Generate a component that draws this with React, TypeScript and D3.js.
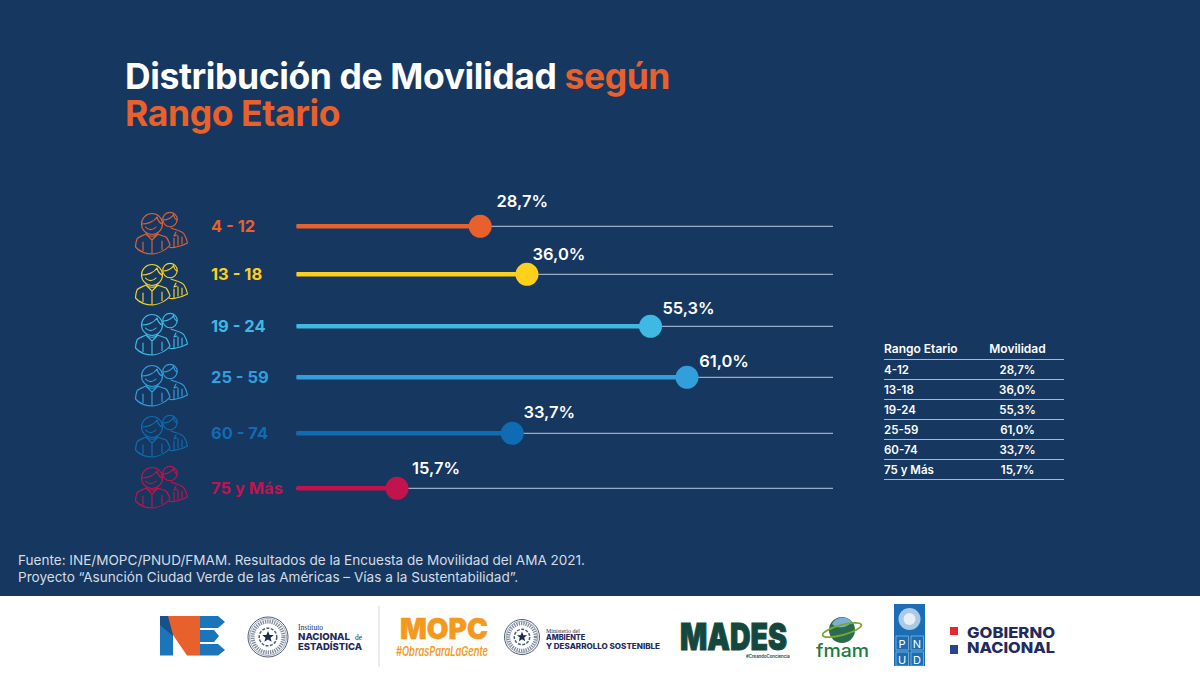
import React from "react";
import * as d3 from "d3";

const categories = ["4 - 12", "13 - 18", "19 - 24", "25 - 59", "60 - 74", "75 y Más"];
const tableCategories = ["4-12", "13-18", "19-24", "25-59", "60-74", "75 y Más"];
const values = [28.7, 36.0, 55.3, 61.0, 33.7, 15.7];
const colors = ["#e8602c", "#fdd01c", "#3fb8e4", "#329fdc", "#0f6cb4", "#c2134f"];
const iconColors = ["#d9623c", "#f2d02e", "#3fb8e4", "#329fdc", "#0f6cb4", "#c2134f"];
const rowY = [226.3, 274.3, 326.3, 377.3, 433.3, 488.3];
const iconTop = [212, 263, 313, 364, 415, 466];
const labelDx = [42, 32, 38, 37, 37, 39];
const labelDy = [-25, -20, -18, -16, -21, -20];

const FONT = "Inter, 'Noto Sans', sans-serif";
const BG = "#16375f";
const fmt = (v: number) => v.toFixed(1).replace(".", ",") + "%";

function People({ x, y, color }: { x: number; y: number; color: string }) {
  return (
    <g transform={`translate(${x},${y})`} fill="none" stroke={color} strokeWidth={1.15} strokeLinejoin="round" strokeLinecap="round">
      {/* back person */}
      <circle cx={35} cy={7.5} r={7.2} />
      <path d="M28.5,8 C32,8 37,6 38.5,2.5 C39,5 40,7 42,8" />
      <path d="M36,16 C41,18 47,19 49,22 C51,25 52,28 52.5,31 C49,33 44,34.5 41,35 C38,36 36,36 34,35" />
      <path d="M41,20 L39,24 L42,23 M43,24 L43,33 M47,25 L47,32 M39,26 L39,35" />
      {/* front person */}
      <circle cx={17} cy={12} r={10.5} fill={BG} />
      <path d="M7,12 C12,12 19,10 22,5 C23,9 25,11 27,12" />
      <path d="M10.5,15 C13,18.5 18,18.5 21,15" />
      <path d="M11,22 C7,24 3,25 2,27 C1,30 0.5,32 0.5,35 C4,39 11,42 18,42 C25,41 31,38 35,33 C34,30 33,27 31,25 C29,24 25,23 22,22 C21,25 13,25 11,22 Z" fill={BG} />
      <path d="M11,22 L17,28 L23,22 M17,28 L17,41.5 M8,30 L8,38.5 M27,29 L27,37.5" />
    </g>
  );
}

function Seal({ cx, cy, r }: { cx: number; cy: number; r: number }) {
  return (
    <g fill="none" stroke="#3c4a68">
      <circle cx={cx} cy={cy} r={r} strokeWidth={0.9} />
      <circle cx={cx} cy={cy} r={r - 1.6} strokeWidth={0.5} />
      <circle cx={cx} cy={cy} r={r * 0.77} strokeWidth={r * 0.2} strokeDasharray="1.3 1" opacity={0.65} />
      <circle cx={cx} cy={cy} r={r * 0.44} strokeWidth={1.5} strokeDasharray="3 1.4" stroke="#4b5d7c" />
      <path
        transform={`translate(${cx},${cy}) scale(${r / 20})`}
        d="M0,-6 L1.6,-2 L5.8,-1.9 L2.5,0.7 L3.6,4.8 L0,2.5 L-3.6,4.8 L-2.5,0.7 L-5.8,-1.9 L-1.6,-2 Z"
        fill="#1c2a4c"
        stroke="none"
      />
    </g>
  );
}

function Logos() {
  const dark = "#232a5c";
  return (
    <g>
      <rect x={0} y={596} width={1200} height={79} fill="#ffffff" />
      {/* INE */}
      <rect x={160} y={616} width={13} height={39.5} fill="#1a75bb" />
      <path d="M160,616 H172 L173,636 L160,625 Z" fill="#17508a" />
      <path d="M168,616 H187 V616 H200 V655.5 H187 L173,635 Z" fill="#e8602c" />
      <path d="M200,616 H218 L225,622 L218,628 H200 Z M200,630 H214 L219,636 L214,642 H200 Z M200,644 H218 L225,650 L218,655.5 H200 Z" fill="#1a75bb" />
      <Seal cx={268} cy={637} r={20} />
      <text x={298} y={630} fontFamily="'Liberation Serif', serif" fontSize={7.5} fill={dark}>Instituto</text>
      <text x={298} y={639.5} fontFamily={FONT} fontWeight={800} fontSize={9.6} fill={dark} textLength={52} lengthAdjust="spacingAndGlyphs">NACIONAL</text>
      <text x={355} y={639.5} fontFamily="'Liberation Serif', serif" fontSize={7.5} fill={dark}>de</text>
      <text x={298} y={650} fontFamily={FONT} fontWeight={800} fontSize={9.6} fill={dark} textLength={64} lengthAdjust="spacingAndGlyphs">ESTADÍSTICA</text>
      <line x1={379} x2={379} y1={606} y2={667} stroke="#d8d8d8" strokeWidth={1} />
      {/* MOPC */}
      <text x={400} y={639} fontFamily={FONT} fontWeight={900} fontSize={28} fill="#f39a1e" stroke="#f39a1e" strokeWidth={0.5} textLength={88} lengthAdjust="spacingAndGlyphs">MOPC</text>
      <text x={396} y={656} fontFamily={FONT} fontStyle="italic" fontWeight={600} fontSize={13} fill="#f39a1e" textLength={92} lengthAdjust="spacingAndGlyphs">#ObrasParaLaGente</text>
      <Seal cx={522} cy={637} r={17.5} />
      <text x={546} y={632.5} fontFamily="'Liberation Serif', serif" fontSize={6} fill={dark}>Ministerio del</text>
      <text x={546} y={640} fontFamily={FONT} fontWeight={800} fontSize={7.4} fill={dark}>AMBIENTE</text>
      <text x={546} y={648.5} fontFamily={FONT} fontWeight={800} fontSize={7.4} fill={dark} textLength={114} lengthAdjust="spacingAndGlyphs">Y DESARROLLO SOSTENIBLE</text>
      {/* MADES */}
      <text x={680} y={650} fontFamily={FONT} fontWeight={900} fontSize={37} fill="#14483e" stroke="#14483e" strokeWidth={1} textLength={107} lengthAdjust="spacingAndGlyphs">MADES</text>
      <text x={746} y={658} fontFamily={FONT} fontWeight={600} fontSize={4.3} fill="#14483e">#CreandoConciencia</text>
      {/* fmam */}
      <circle cx={842} cy={630} r={13} fill="#2a6b4f" />
      <path d="M832,624 A12,12 0 0 1 852,622 C848,627 838,630 832,624 Z" fill="#7bb0d4" />
      <ellipse cx={842} cy={630} rx={20} ry={5} transform="rotate(-15 842 630)" fill="none" stroke="#7aa82a" strokeWidth={1.8} />
      <text x={816} y={657} fontFamily={FONT} fontWeight={500} fontSize={18} fill="#1f7a3c" textLength={53} lengthAdjust="spacingAndGlyphs">fmam</text>
      {/* PNUD */}
      <rect x={894} y={604} width={31} height={62} fill="#1b6db5" />
      <circle cx={909.5} cy={619} r={11} fill="#a9c9e6" />
      <circle cx={909.5} cy={619} r={6} fill="#e6eff8" />
      {["P", "N", "U", "D"].map((t, i) => {
        const cxx = i % 2 === 0 ? 902 : 917;
        const cyy = i < 2 ? 644 : 660;
        return (
          <g key={t}>
            <rect x={cxx - 6} y={cyy - 8} width={12.5} height={14} fill="none" stroke="#cfe1f1" strokeWidth={0.5} />
            <text x={cxx} y={cyy + 3.5} textAnchor="middle" fontFamily={FONT} fontSize={11} fill="#ffffff">{t}</text>
          </g>
        );
      })}
      {/* Gobierno */}
      <rect x={950} y={627} width={8} height={8} fill="#e8262d" />
      <rect x={950} y={645} width={8} height={9} fill="#27448f" />
      <text x={967} y={638} fontFamily={FONT} fontWeight={800} fontSize={15} fill={dark} textLength={88} lengthAdjust="spacingAndGlyphs">GOBIERNO</text>
      <text x={967} y={653} fontFamily={FONT} fontWeight={800} fontSize={15} fill={dark} textLength={88} lengthAdjust="spacingAndGlyphs">NACIONAL</text>
    </g>
  );
}

export default function App() {
  const x = d3.scaleLinear().domain([0, 83.8]).range([296.5, 833]);
  const tableRowY = d3.range(categories.length).map((i) => 369.5 + i * 20);
  return (
    <svg width={1200} height={675} viewBox="0 0 1200 675" style={{ position: "fixed", left: 0, top: 0 }}>
      <rect width={1200} height={675} fill={BG} />
      <text x={125} y={89} fontFamily={FONT} fontWeight={700} fontSize={35.5} letterSpacing={-0.4} fill="#ffffff">
        Distribución de Movilidad <tspan fill="#e8602c">según</tspan>
      </text>
      <text x={125} y={125.5} fontFamily={FONT} fontWeight={700} fontSize={35.5} letterSpacing={-0.4} fill="#e8602c">Rango Etario</text>

      {categories.map((c, i) => (
        <g key={c}>
          <People x={135} y={iconTop[i]} color={iconColors[i]} />
          <text x={211} y={rowY[i] + 6} fontFamily={FONT} fontWeight={700} fontSize={16.5} fill={colors[i]}>{c}</text>
          <line x1={x(0)} x2={x.range()[1]} y1={rowY[i]} y2={rowY[i]} stroke="#9aacc3" strokeWidth={1.2} />
          <line x1={x(0)} x2={x(values[i])} y1={rowY[i]} y2={rowY[i]} stroke={colors[i]} strokeWidth={4.6} />
          <circle cx={x(values[i])} cy={rowY[i]} r={11.5} fill={colors[i]} />
          <text x={x(values[i]) + labelDx[i]} y={rowY[i] + labelDy[i] + 6} textAnchor="middle" fontFamily={FONT} fontWeight={600} fontSize={16.5} fill="#ffffff">{fmt(values[i])}</text>
        </g>
      ))}

      <g fontFamily={FONT} fontWeight={600} fill="#ffffff">
        <text x={884} y={353} fontSize={12}>Rango Etario</text>
        <text x={1017.5} y={353} fontSize={12} textAnchor="middle">Movilidad</text>
        <line x1={884} x2={1064} y1={359.5} y2={359.5} stroke="#a9b8ca" strokeWidth={1} />
        {tableCategories.map((c, i) => (
          <g key={c} fontSize={11.5}>
            <text x={884} y={tableRowY[i] + 4}>{c}</text>
            <text x={1017.5} y={tableRowY[i] + 4} textAnchor="middle">{fmt(values[i])}</text>
            <line x1={884} x2={1064} y1={tableRowY[i] + 10} y2={tableRowY[i] + 10} stroke="#a9b8ca" strokeWidth={1} />
          </g>
        ))}
      </g>

      <g fontFamily={FONT} fontSize={13.55} fill="#d5dce6">
        <text x={18} y={565}>Fuente: INE/MOPC/PNUD/FMAM. Resultados de la Encuesta de Movilidad del AMA 2021.</text>
        <text x={18} y={582}>Proyecto “Asunción Ciudad Verde de las Américas – Vías a la Sustentabilidad”.</text>
      </g>

      <Logos />
    </svg>
  );
}
